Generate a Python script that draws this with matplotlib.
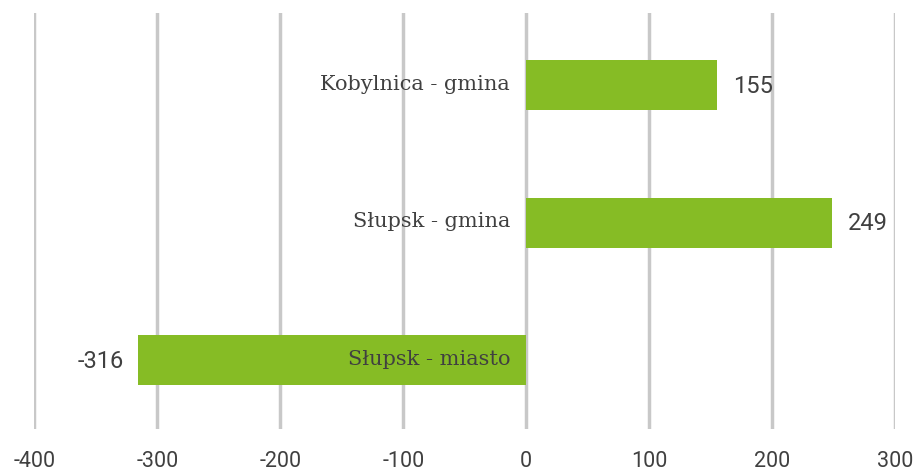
import matplotlib.pyplot as plt

# data
categories = ['Słupsk - miasto', 'Słupsk - gmina', 'Kobylnica - gmina']
values = [-316, 249, 155]
tick_values = [-400, -300, -200, -100, 0, 100, 200, 300]

BAR_COLOR = '#86BC25'
GRID_COLOR = '#C8C8C8'
TEXT_COLOR = '#404040'

fig = plt.figure(figsize=(9.19, 4.72), dpi=100)
ax = fig.add_axes([0.0375, 0.0911, 0.9364, 0.8814])

ypos = list(range(len(categories)))
ax.barh(ypos, values, height=0.364, color=BAR_COLOR, zorder=3)

ax.set_xlim(-400, 300)
ax.set_ylim(-0.5, 2.525)
ax.set_xticks(tick_values)
ax.set_xticklabels([str(t) for t in tick_values], family='Roboto', fontsize=15.5, color=TEXT_COLOR)
ax.set_yticks([])
ax.tick_params(axis='x', length=0, pad=16)
ax.grid(axis='x', color=GRID_COLOR, linewidth=2.5, zorder=0)
for s in ax.spines.values():
    s.set_visible(False)

# category labels sit just left of the zero line
for y, cat in zip(ypos, categories):
    ax.annotate(cat, (0, y), xytext=(-16, 1), textcoords='offset pixels',
                ha='right', va='center', family='DejaVu Serif', fontsize=15,
                color=TEXT_COLOR, zorder=4)

# value labels outside the bar ends
for y, v in zip(ypos, values):
    off = 16 if v > 0 else -14
    ax.annotate(str(v), (v, y), xytext=(off, -1), textcoords='offset pixels',
                ha='left' if v > 0 else 'right', va='center', family='Roboto',
                fontsize=17, color=TEXT_COLOR, zorder=4)

fig.savefig('out.png', dpi=100)
